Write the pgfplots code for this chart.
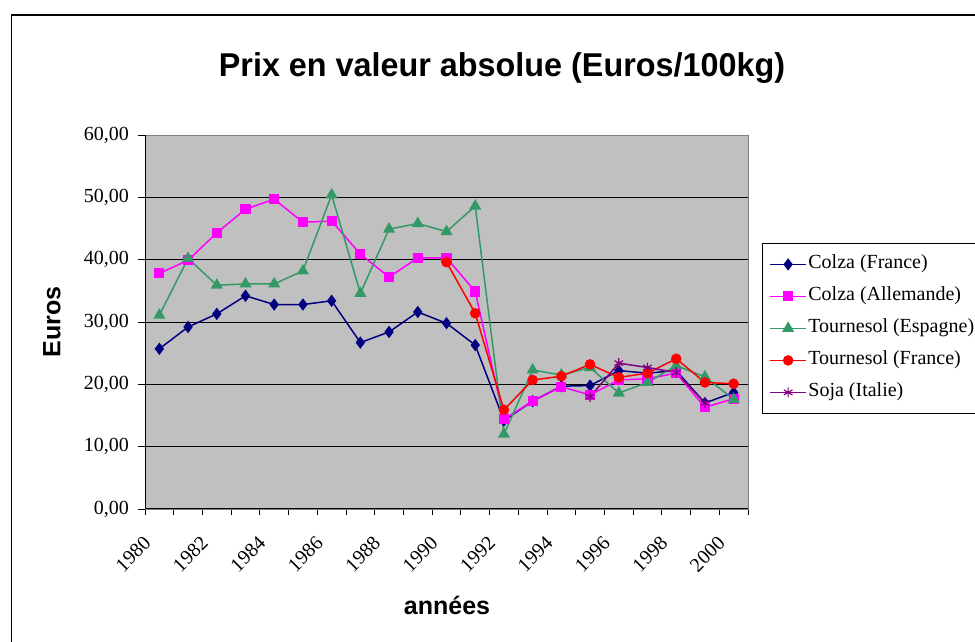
\documentclass[border=0pt]{standalone}
\usepackage{pgfplots}
\pgfplotsset{compat=1.18}
\usepackage{pgfplotstable}
\usepackage{fontspec}
\setmainfont{Liberation Serif}
\newfontfamily\arial{Liberation Sans}
\definecolor{cf}{HTML}{000080}
\definecolor{ca}{HTML}{FF00FF}
\definecolor{te}{HTML}{339966}
\definecolor{tf}{HTML}{FF0000}
\definecolor{si}{HTML}{800080}
\definecolor{plotbg}{HTML}{C0C0C0}
\pgfplotstableread{
idx CF CA TE TF SI
0 25.7 37.8 31.1 nan nan
1 29.2 39.9 40.2 nan nan
2 31.3 44.3 35.9 nan nan
3 34.2 48.1 36.1 nan nan
4 32.8 49.7 36.1 nan nan
5 32.8 46.0 38.2 nan nan
6 33.4 46.2 50.4 nan nan
7 26.7 40.9 34.6 nan nan
8 28.4 37.2 44.9 nan nan
9 31.6 40.3 45.8 nan nan
10 29.8 40.3 44.5 39.6 nan
11 26.3 34.9 48.6 31.4 nan
12 14.2 14.4 12.0 15.9 nan
13 17.3 17.3 22.3 20.7 nan
14 19.7 19.6 21.5 21.3 nan
15 19.8 18.3 22.7 23.2 18.0
16 22.2 20.7 18.6 21.1 23.4
17 21.8 20.9 20.3 21.8 22.7
18 22.2 21.8 23.0 24.1 21.9
19 17.0 16.3 21.2 20.3 17.0
20 18.7 17.7 17.6 20.1 nan
}\datatable
\begin{document}
\begin{tikzpicture}
\useasboundingbox (0,0) rectangle (975pt,642pt);
\draw[line width=1.3pt] (11.7pt,-20pt) -- (11.7pt,627pt) -- (1000pt,627pt);
\begin{axis}[
  scale only axis,
  width=603pt, height=374pt,
  at={(145pt,133pt)}, anchor=south west,
  xmin=-0.5, xmax=20.5, ymin=0, ymax=60,
  axis background/.style={fill=plotbg},
  axis line style={draw=gray, line width=0.8pt},
  ytick={0,10,...,60},
  ymajorgrids, major grid style={black, line width=0.9pt},
  xtick={0,2,...,20},
  xticklabels={1980,1982,1984,1986,1988,1990,1992,1994,1996,1998,2000},
  minor xtick={-0.5,0.5,...,20.5},
  xtick pos=bottom, ytick pos=left,
  tick align=outside,
  major x tick style={draw=none},
  minor tick length=6pt,
  major tick length=7pt,
  tick style={black, line width=0.9pt},
  /pgf/number format/.cd, fixed, fixed zerofill, precision=2, use comma, assume math mode=true,
  /pgfplots/.cd,
  ticklabel style={font=\fontsize{20}{24}\selectfont},
  x tick label style={xshift=-12pt, yshift=-24pt, rotate=45, anchor=east, inner sep=0pt},
  y tick label style={inner sep=0pt, xshift=-9pt},
  legend style={at={(1.0232,0.7112)}, anchor=north west, draw=black, line width=0.8pt,
    fill=white, font=\fontsize{20}{24}\selectfont, inner xsep=7pt, inner ysep=10pt,
    row sep=10pt,
    nodes={inner sep=1.5pt, text height=14pt, text depth=5pt}},
  legend cell align=left,
  legend image code/.code={\draw[mark repeat=2, mark phase=2] plot coordinates {(0pt,0pt) (18pt,0pt) (36pt,0pt)};},
  every axis plot/.append style={line width=1.5pt, mark options={solid}},
  after end axis/.code={\draw[black, line width=1pt] (rel axis cs:0,1) -- (rel axis cs:0,0) -- (rel axis cs:1,0);},
]
\addplot[color=cf, mark=diamond*, mark size=5pt] table[x=idx, y=CF] {\datatable};
\addlegendentry{Colza (France)}
\addplot[color=ca, mark=square*, mark size=4.3pt] table[x=idx, y=CA] {\datatable};
\addlegendentry{Colza (Allemande)}
\addplot[color=te, mark=triangle*, mark size=5.5pt] table[x=idx, y=TE] {\datatable};
\addlegendentry{Tournesol (Espagne)}
\addplot[color=tf, mark=*, mark size=4.5pt] table[x=idx, y=TF] {\datatable};
\addlegendentry{Tournesol (France)}
\addplot[color=si, mark=asterisk, mark size=5pt, mark options={line width=1.2pt}] table[x=idx, y=SI] {\datatable};
\addlegendentry{Soja (Italie)}
\end{axis}
\node[font=\arial\bfseries\fontsize{33}{38}\selectfont, xscale=0.98] at (502pt,574pt) {Prix en valeur absolue (Euros/100kg)};
\node[font=\arial\bfseries\fontsize{25}{30}\selectfont, rotate=90] at (52pt,320pt) {Euros};
\node[font=\arial\bfseries\fontsize{25}{30}\selectfont] at (447pt,37pt) {années};
\end{tikzpicture}
\end{document}
